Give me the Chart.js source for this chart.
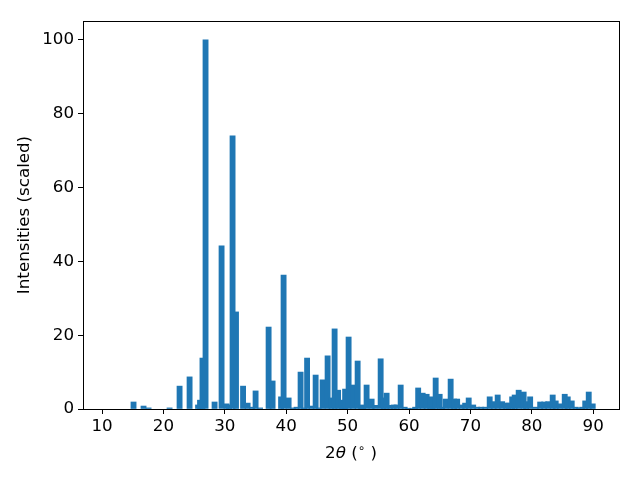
<!DOCTYPE html>
<html>
<head>
<meta charset="utf-8">
<script src="https://cdn.jsdelivr.net/npm/chart.js@4.4.1/dist/chart.umd.min.js"></script>
<style>
    html, body { margin: 0; padding: 0; background: #ffffff; }
    canvas { display: block; }
</style>
</head>
<body>
<canvas id="xrd" width="640" height="480"></canvas>
<script>
// peak positions (2theta, degrees)
const twoTheta = [
    15.13, 16.76, 17.58, 21.0, 22.63, 24.26, 25.64, 25.96, 26.36, 26.86,
    28.33, 29.47, 30.28, 30.69, 31.26, 31.82, 32.97, 33.71, 34.44, 35.01,
    35.74, 37.13, 37.78, 39.16, 39.57, 40.39, 41.12, 41.69, 42.34, 42.91,
    43.40, 44.13, 44.79, 45.28, 45.93, 46.74, 47.39, 47.88, 48.45, 49.02,
    49.35, 49.59, 50.16, 50.89, 51.63, 52.2, 52.53, 53.09, 53.91, 54.48,
    55.38, 55.87, 56.35, 56.93, 57.5, 57.98, 58.64, 59.29, 59.86, 60.51,
    61.0, 61.49, 62.22, 62.87, 63.44, 63.85, 64.34, 64.99, 65.4, 65.97,
    66.78, 67.35, 67.84, 68.57, 69.14, 69.72, 70.45, 71.1, 71.75, 72.4,
    73.14, 73.79, 74.44, 75.17, 75.82, 76.2, 76.8, 77.21, 77.86, 78.67,
    79.08, 79.73, 80.63, 81.36, 82.01, 82.67, 83.4, 83.89, 84.54, 85.36,
    85.85, 86.5, 87.15, 87.64, 88.21, 88.7, 89.27, 89.92
];

// scaled intensities, same order
const intensity = [
    1.9, 0.8, 0.3, 0.3, 6.2, 8.7, 1.1, 2.4, 13.8, 100,
    1.9, 44.2, 1.4, 1.1, 74, 26.3, 6.2, 1.6, 0.5, 4.9,
    0.3, 22.2, 7.6, 3.3, 36.3, 3.0, 0.3, 0.5, 10.0, 0.3,
    13.8, 0.8, 9.2, 0.3, 7.9, 14.4, 3.0, 21.7, 5.1, 2.4,
    0.8, 5.4, 19.5, 6.5, 13.0, 1.1, 0.5, 6.5, 2.7, 1.0,
    13.6, 3.0, 4.3, 1.0, 1.1, 1.1, 6.5, 0.5, 0.2, 0.2,
    0.5, 5.7, 4.3, 4.0, 3.3, 0.5, 8.4, 4.0, 0.5, 2.7,
    8.1, 2.7, 2.7, 1.1, 1.6, 3.0, 1.1, 0.5, 0.5, 0.5,
    3.3, 2.0, 3.8, 2.0, 1.6, 1.6, 3.3, 3.8, 5.1, 4.6,
    2.0, 3.3, 0.5, 1.9, 1.9, 2.0, 3.8, 2.2, 1.4, 4.0,
    3.3, 2.2, 0.5, 0.3, 0.5, 2.2, 4.6, 1.4
];

const xTicks = [10, 20, 30, 40, 50, 60, 70, 80, 90];
const yTicks = [0, 20, 40, 60, 80, 100];

const barColor = '#1f77b4';
const fontFamily = 'DejaVu Sans';
const tickFont = { family: fontFamily, size: 16.7 };

// matplotlib style box around the axes
const frameBox = {
    id: 'frameBox',
    afterDraw(chart) {
        const { ctx, chartArea } = chart;
        ctx.save();
        ctx.strokeStyle = '#000000';
        ctx.lineWidth = 1;
        ctx.strokeRect(chartArea.left + 0.5, chartArea.top + 0.5,
            chartArea.right - chartArea.left, chartArea.bottom - chartArea.top);
        ctx.restore();
    }
};

// x label with an italic theta and a raised degree sign, like mathtext
const xLabel = {
    id: 'xLabel',
    afterDraw(chart) {
        const { ctx, chartArea } = chart;
        const parts = [
            { text: '2', font: `16.7px "${fontFamily}"`, dy: 0 },
            { text: 'θ', font: `italic 16.7px "${fontFamily}"`, dy: 0 },
            { text: ' (', font: `16.7px "${fontFamily}"`, dy: 0 },
            { text: '∘', font: `11.7px "${fontFamily}"`, dy: -6 },
            { text: ' )', font: `16.7px "${fontFamily}"`, dy: 0 }
        ];
        ctx.save();
        ctx.fillStyle = '#000000';
        ctx.textBaseline = 'alphabetic';
        ctx.textAlign = 'left';
        let total = 0;
        parts.forEach(p => { ctx.font = p.font; p.w = ctx.measureText(p.text).width; total += p.w; });
        let x = (chartArea.left + chartArea.right) / 2 - total / 2;
        const y = 458;
        parts.forEach(p => {
            ctx.font = p.font;
            ctx.fillText(p.text, x, y + p.dy);
            x += p.w;
        });
        ctx.restore();
    }
};

const points = twoTheta.map((t, i) => ({ x: t, y: intensity[i] }));

new Chart(document.getElementById('xrd').getContext('2d'), {
    type: 'bar',
    data: {
        datasets: [{
            data: points,
            backgroundColor: barColor,
            borderWidth: 0,
            barThickness: 5.2,
            grouped: false
        }]
    },
    options: {
        responsive: false,
        animation: false,
        layout: { padding: { left: 0, top: 21, right: 21, bottom: 0 } },
        plugins: {
            legend: { display: false },
            tooltip: { enabled: false }
        },
        scales: {
            x: {
                type: 'linear',
                min: 6.9,
                max: 94.2,
                offset: false,
                afterBuildTicks: scale => { scale.ticks = xTicks.map(v => ({ value: v })); },
                afterFit: scale => { scale.height = 71; },
                grid: { display: true, drawOnChartArea: false, offset: false, tickLength: 5, color: '#000000' },
                border: { display: true, color: '#000000' },
                ticks: { color: '#000000', font: tickFont, padding: 3, maxRotation: 0 },
                title: { display: false }
            },
            y: {
                min: 0,
                max: 105.1,
                afterBuildTicks: scale => { scale.ticks = yTicks.map(v => ({ value: v })); },
                afterFit: scale => { scale.width = 83; },
                grid: { display: true, drawOnChartArea: false, tickLength: 5, color: '#000000' },
                border: { display: true, color: '#000000' },
                ticks: { color: '#000000', font: tickFont, padding: 4 },
                title: {
                    display: true,
                    text: 'Intensities (scaled)',
                    color: '#000000',
                    font: tickFont,
                    padding: { top: 15, bottom: 4 }
                }
            }
        }
    },
    plugins: [frameBox, xLabel]
});
</script>
</body>
</html>
